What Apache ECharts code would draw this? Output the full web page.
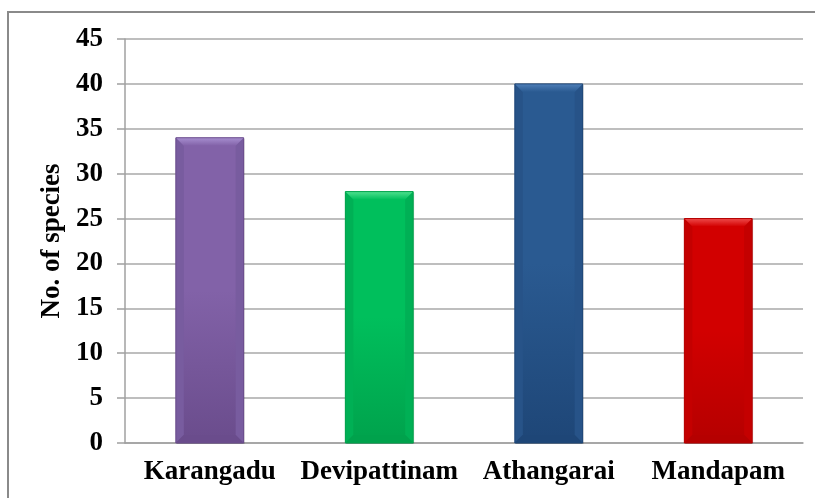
<!DOCTYPE html>
<html>
<head>
<meta charset="utf-8">
<script src="https://cdn.jsdelivr.net/npm/echarts@6/dist/echarts.min.js"></script>
<style>
  html, body { margin: 0; padding: 0; background: #fff; }
  #chart { width: 815px; height: 498px; }
</style>
</head>
<body>
<div id="chart"></div>
<script>
// Species counts per sampling station
const stations = ['Karangadu', 'Devipattinam', 'Athangarai', 'Mandapam'];
const speciesCounts = [34, 28, 40, 25];
const yTicks = [0, 5, 10, 15, 20, 25, 30, 35, 40, 45];

// Per-bar colours: [top facet, face, bottom shade, side facet]
const barColors = [
  ['#a78fd0', '#8262a8', '#6a4c8c', '#785c9f'],
  ['#4fe08f', '#00bf5c', '#00a24c', '#00b055'],
  ['#4f7fb8', '#2a5a91', '#1e4677', '#275388'],
  ['#ee4a4a', '#d20000', '#b50000', '#c40000']
];

const chart = echarts.init(document.getElementById('chart'), null, { renderer: 'canvas' });

const font = '"Liberation Serif", "Times New Roman", serif';

// Bevelled bar: face rectangle plus lighter top facet and shaded sides/bottom
function renderBevelBar(params, api) {
  const idx = params.dataIndex;
  const c = barColors[idx];
  const top = api.coord([api.value(0), api.value(1)]);
  const base = api.coord([api.value(0), 0]);
  const w = api.size([1, 0])[0] * 0.4;
  const x0 = top[0] - w / 2, x1 = top[0] + w / 2;
  const y0 = top[1], y1 = base[1];
  const b = 8;
  return {
    type: 'group',
    children: [
      { type: 'rect', shape: { x: x0 + 1, y: y0 + 1, width: w, height: y1 - y0 },
        style: { fill: 'rgba(0,0,0,0.18)' } },
      { type: 'rect', shape: { x: x0, y: y0, width: w, height: y1 - y0 },
        style: { fill: new echarts.graphic.LinearGradient(0, 0, 0, 1, [
          { offset: 0, color: c[1] }, { offset: 0.5, color: c[1] }, { offset: 1, color: c[2] }
        ]) } },
      { type: 'polygon', shape: { points: [[x0, y0], [x0 + b, y0 + b], [x0 + b, y1 - b], [x0, y1]] },
        style: { fill: c[3] } },
      { type: 'polygon', shape: { points: [[x1, y0], [x1 - b, y0 + b], [x1 - b, y1 - b], [x1, y1]] },
        style: { fill: c[3] } },
      { type: 'polygon', shape: { points: [[x0, y1], [x0 + b, y1 - b], [x1 - b, y1 - b], [x1, y1]] },
        style: { fill: c[2] } },
      { type: 'polygon', shape: { points: [[x0, y0], [x1, y0], [x1 - b, y0 + b], [x0 + b, y0 + b]] },
        style: { fill: new echarts.graphic.LinearGradient(0, 0, 0, 1, [
          { offset: 0, color: c[0] }, { offset: 1, color: c[1] }
        ]) } },
      { type: 'rect', shape: { x: x0, y: y0, width: w, height: y1 - y0 },
        style: { fill: 'none', stroke: c[2], lineWidth: 1 } }
    ]
  };
}

chart.setOption({
  animation: false,
  graphic: [{
    type: 'rect',
    shape: { x: 8, y: 12, width: 830, height: 520 },
    style: { fill: 'none', stroke: '#8a8a8a', lineWidth: 2 },
    silent: true
  }],
  grid: { left: 125, right: 12, top: 39, bottom: 55, containLabel: false },
  xAxis: {
    type: 'category',
    data: stations,
    axisLine: { lineStyle: { color: '#a0a0a0', width: 1.5 } },
    axisTick: { show: false },
    axisLabel: {
      interval: 0, hideOverlap: false,
      color: '#000', fontFamily: font, fontWeight: 'bold', fontSize: 27, margin: 16
    }
  },
  yAxis: {
    type: 'value',
    min: yTicks[0],
    max: yTicks[yTicks.length - 1],
    interval: yTicks[1] - yTicks[0],
    name: 'No. of species',
    nameLocation: 'middle',
    nameGap: 55,
    nameRotate: 90,
    nameTextStyle: { color: '#000', fontFamily: font, fontWeight: 'bold', fontSize: 27 },
    axisLine: { show: true, lineStyle: { color: '#a0a0a0', width: 1.5 } },
    axisTick: { show: true, inside: false, length: 8, lineStyle: { color: '#a0a0a0', width: 1.5 } },
    axisLabel: {
      color: '#000', fontFamily: font, fontWeight: 'bold', fontSize: 27, margin: 22
    },
    splitLine: { show: true, lineStyle: { color: '#a8a8a8', width: 1.5 } }
  },
  series: [{
    type: 'custom',
    renderItem: renderBevelBar,
    encode: { x: 0, y: 1 },
    data: speciesCounts.map((v, i) => [i, v])
  }]
});
</script>
</body>
</html>
